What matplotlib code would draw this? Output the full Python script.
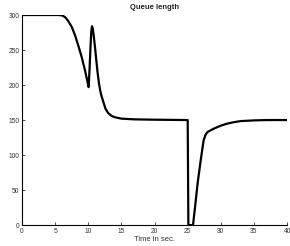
import matplotlib
matplotlib.use("Agg")
import matplotlib.pyplot as plt

plt.rcParams['font.family'] = ['Liberation Sans', 'DejaVu Sans']

# queue length readings (time in sec, packets)
t = [0, 5, 5.5, 6, 6.5, 7, 7.5, 8, 8.5, 9, 9.5, 9.8, 10.05, 10.2, 10.35,
     10.45, 10.55, 10.65, 10.8, 11.0, 11.2, 11.4, 11.6, 11.8, 12.0, 12.3,
     12.6, 13.0, 13.5, 14, 15, 17, 20, 25, 25.1, 25.8, 26.1, 26.5, 27,
     27.4, 27.7, 28, 29, 30, 31, 32, 33, 35, 37, 40]
q = [300, 300, 300, 299.5, 297, 291, 283, 271, 256, 240, 221, 208, 197, 225, 258,
     276, 284, 282, 272, 255, 236, 218, 203, 192, 184, 175,
     166, 160, 156, 154, 152, 151, 150.5, 150, 0, 0, 25, 60, 95,
     121, 129, 133, 138, 142, 145, 147, 148.5, 149.5, 150, 150]

xticks = [0, 5, 10, 15, 20, 25, 30, 35, 40]
yticks = [0, 50, 100, 150, 200, 250, 300]

fig = plt.figure(figsize=(2.9, 2.46), dpi=100)
ax = fig.add_axes([0.076, 0.085, 0.914, 0.854])
ax.plot(t, q, color='black', lw=1.6)

ax.set_xlim(0, 40)
ax.set_ylim(0, 300)
ax.set_xticks(xticks)
ax.set_yticks(yticks)
ax.tick_params(direction='in', labelsize=4.8, length=2, width=0.6, pad=2,
               colors='#333333')
ax.spines['top'].set_visible(False)
ax.spines['right'].set_visible(False)
ax.spines['left'].set_linewidth(0.8)
ax.spines['bottom'].set_linewidth(0.8)

ax.set_title('Queue length', fontsize=5.5, fontweight='bold', pad=4,
             color='#222222')
ax.set_xlabel('Time in sec.', fontsize=5.5, labelpad=1, color='#333333')

fig.savefig('out.png', dpi=100)
